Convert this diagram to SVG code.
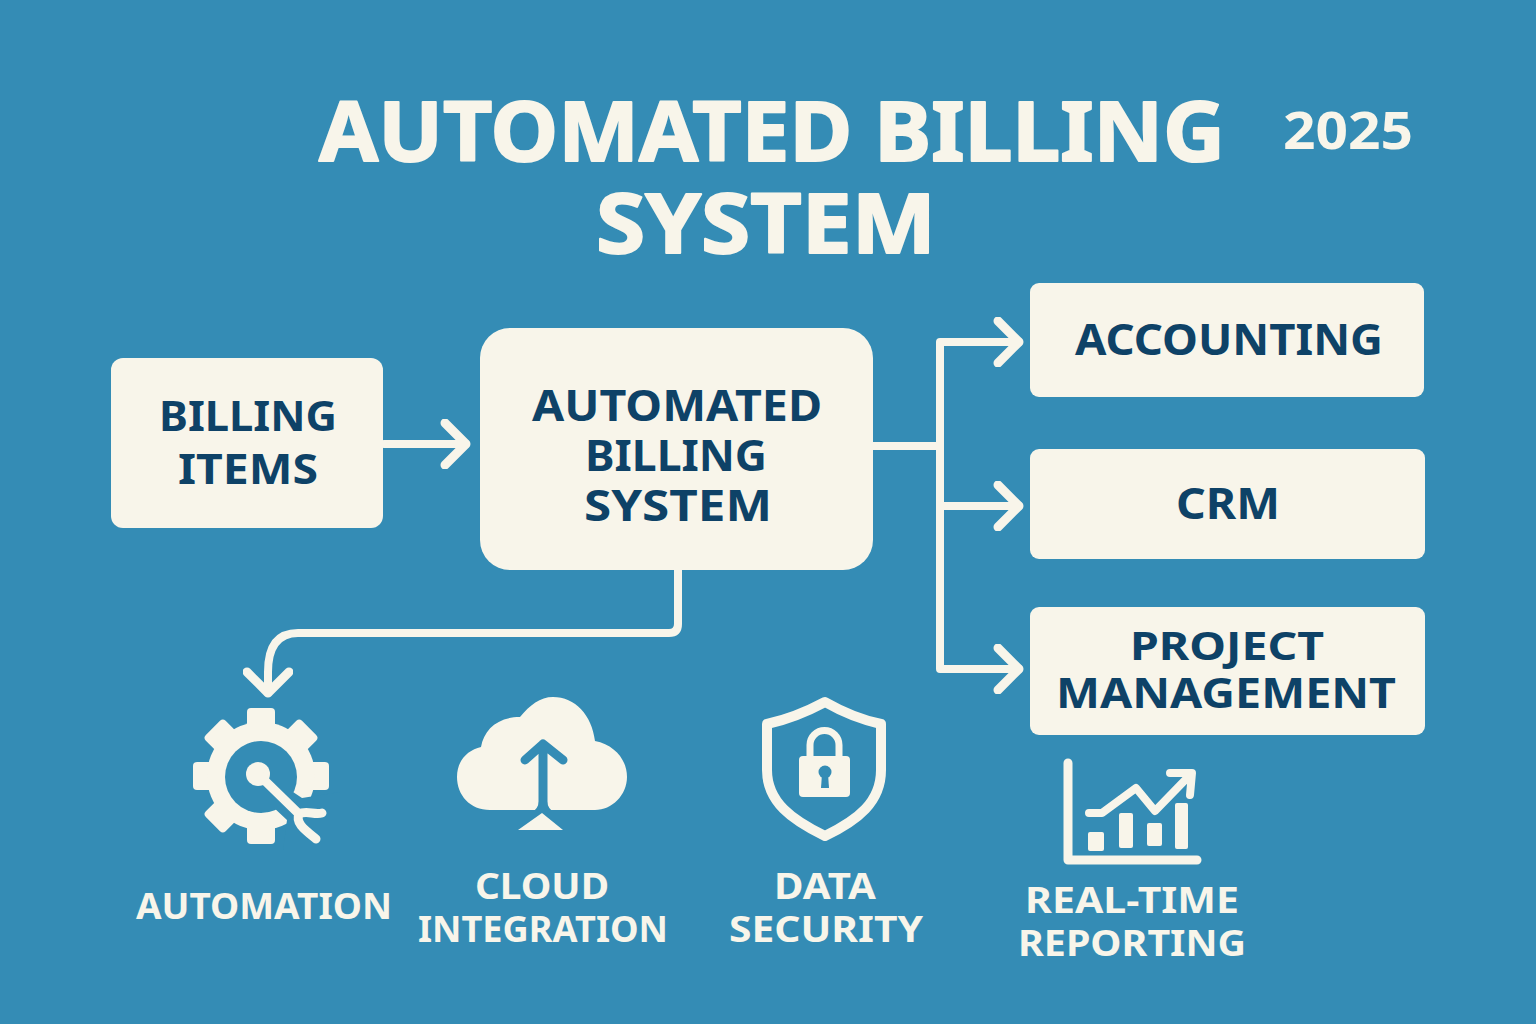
<svg xmlns="http://www.w3.org/2000/svg" width="1536" height="1024" viewBox="0 0 1536 1024">
<defs><style>
.t{font-family:"Noto Sans","Open Sans",sans-serif;font-weight:700;text-anchor:middle}
.w{fill:#f8f5ea}.d{fill:#0e4267}
.h{stroke:#f8f5ea;stroke-width:2;stroke-linejoin:round}
.box{fill:#f8f5ea}
.c{fill:none;stroke:#f8f5ea;stroke-width:8;stroke-linecap:round;stroke-linejoin:round}
.ic{fill:none;stroke:#f8f5ea;stroke-linecap:round;stroke-linejoin:round}
.bg{fill:none;stroke:#348cb5;stroke-linecap:round;stroke-linejoin:round}
</style>
<marker id="a" markerUnits="userSpaceOnUse" markerWidth="40" markerHeight="50" refX="30" refY="25" orient="auto"><path d="M9 4L30 25L9 46" fill="none" stroke="#f8f5ea" stroke-width="9" stroke-linecap="round" stroke-linejoin="round"/></marker>
<rect id="tooth" x="247" y="708" width="28" height="34" rx="4" fill="#f8f5ea"/>
</defs>
<rect width="1536" height="1024" fill="#348cb5"/>
<g id="title">
<text class="t w h" x="772" y="161" font-size="82" textLength="906" lengthAdjust="spacingAndGlyphs">AUTOMATED BILLING</text>
<text class="t w h" x="766" y="253" font-size="82" textLength="340" lengthAdjust="spacingAndGlyphs">SYSTEM</text>
<text class="t w" x="1348" y="149" font-size="52" textLength="130" lengthAdjust="spacingAndGlyphs">2025</text>
</g>
<g id="connectors">
<path class="c" d="M384 444H466" marker-end="url(#a)"/>
<path class="c" d="M873 446H940"/>
<path class="c" d="M940 446V342H1019" marker-end="url(#a)"/>
<path class="c" d="M940 446V669H1019" marker-end="url(#a)"/>
<path class="c" d="M940 506H1019" marker-end="url(#a)"/>
<path class="c" d="M678 570V624Q678 633 669 633H298Q268 633 268 672V693" marker-end="url(#a)"/>
</g>
<g id="billing-items"><rect class="box" x="111" y="358" width="272" height="170" rx="12"/>
<text class="t d" x="248" y="431" font-size="42" textLength="178" lengthAdjust="spacingAndGlyphs">BILLING</text>
<text class="t d" x="248" y="484" font-size="42" textLength="140" lengthAdjust="spacingAndGlyphs">ITEMS</text></g>
<g id="core"><rect class="box" x="480" y="328" width="393" height="242" rx="30"/>
<text class="t d" x="677" y="421" font-size="43" textLength="290" lengthAdjust="spacingAndGlyphs">AUTOMATED</text>
<text class="t d" x="676" y="471" font-size="43" textLength="182" lengthAdjust="spacingAndGlyphs">BILLING</text>
<text class="t d" x="678" y="521" font-size="43" textLength="188" lengthAdjust="spacingAndGlyphs">SYSTEM</text></g>
<g id="accounting"><rect class="box" x="1030" y="283" width="394" height="114" rx="9"/>
<text class="t d" x="1229" y="355" font-size="43" textLength="308" lengthAdjust="spacingAndGlyphs">ACCOUNTING</text></g>
<g id="crm"><rect class="box" x="1030" y="449" width="395" height="110" rx="9"/>
<text class="t d" x="1228" y="519" font-size="43" textLength="104" lengthAdjust="spacingAndGlyphs">CRM</text></g>
<g id="project"><rect class="box" x="1030" y="607" width="395" height="128" rx="9"/>
<text class="t d" x="1227" y="660" font-size="40" textLength="194" lengthAdjust="spacingAndGlyphs">PROJECT</text>
<text class="t d" x="1226" y="708" font-size="42" textLength="340" lengthAdjust="spacingAndGlyphs">MANAGEMENT</text></g>
<g id="automation">
<use href="#tooth"/>
<use href="#tooth" transform="rotate(45 261 776)"/>
<use href="#tooth" transform="rotate(90 261 776)"/>
<use href="#tooth" transform="rotate(135 261 776)"/>
<use href="#tooth" transform="rotate(180 261 776)"/>
<use href="#tooth" transform="rotate(225 261 776)"/>
<use href="#tooth" transform="rotate(270 261 776)"/>
<use href="#tooth" transform="rotate(315 261 776)"/>
<circle class="box" cx="261" cy="776" r="54"/>
<circle cx="261" cy="777" r="36" fill="#348cb5"/>
<path d="M290 790L302 798L340 792V850H283L287 820L272 806Z" fill="#348cb5"/>
<circle class="box" cx="258" cy="774" r="12"/>
<path class="ic" stroke-width="9" d="M258 774L299 814"/>
<path class="ic" stroke-width="9" d="M299 814C306 810 314 815 322 813M299 814C295 823 305 830 316 839"/>
<text class="t w" x="264" y="919" font-size="36" textLength="256" lengthAdjust="spacingAndGlyphs">AUTOMATION</text></g>
<g id="cloud">
<path class="w" d="M490 810C470 810 457 795 457 777C457 760 468 750 481 747C484 730 497 717 520 717C530 705 540 697 553 697C575 697 592 715 595 741C615 745 627 760 627 777C627 795 612 810 595 810Z"/>
<path class="bg" stroke-width="9" d="M543 812V744M525 760L543 744L563 760"/>
<path d="M534 811Q540 806 539 796H547Q546 806 552 811Z" fill="#348cb5"/>
<path class="w" d="M518 830L542 813L563 830Z"/>
<text class="t w" x="542" y="899" font-size="36" textLength="134" lengthAdjust="spacingAndGlyphs">CLOUD</text>
<text class="t w" x="543" y="942" font-size="36" textLength="250" lengthAdjust="spacingAndGlyphs">INTEGRATION</text></g>
<g id="security">
<path d="M825 702Q795 718 767 724V770C767 802 792 820 825 836C858 820 881 802 881 770V724Q853 718 825 702Z" fill="none" stroke="#f8f5ea" stroke-width="10" stroke-linejoin="round"/>
<rect class="box" x="799" y="756" width="51" height="41" rx="4"/>
<path d="M810 760V745A14.500 14.500 0 0 1 839 745V760" fill="none" stroke="#f8f5ea" stroke-width="7"/>
<circle cx="825" cy="772" r="6.500" fill="#348cb5"/><path d="M822 774H828L829 788H821Z" fill="#348cb5"/>
<text class="t w" x="825" y="899" font-size="36" textLength="102" lengthAdjust="spacingAndGlyphs">DATA</text>
<text class="t w" x="826" y="942" font-size="36" textLength="194" lengthAdjust="spacingAndGlyphs">SECURITY</text></g>
<g id="reporting">
<path class="ic" stroke-width="9" d="M1068 763V860H1197"/>
<rect class="box" x="1088" y="832" width="16" height="19" rx="2"/><rect class="box" x="1119" y="813" width="14" height="35" rx="2"/><rect class="box" x="1147" y="823" width="15" height="23" rx="2"/><rect class="box" x="1175" y="803" width="13" height="46" rx="2"/>
<path class="ic" stroke-width="8" d="M1089 813H1102L1136 788L1155 811L1190 775M1170 773H1192L1190 795"/>
<text class="t w" x="1132" y="913" font-size="36" textLength="214" lengthAdjust="spacingAndGlyphs">REAL-TIME</text>
<text class="t w" x="1132" y="956" font-size="36" textLength="228" lengthAdjust="spacingAndGlyphs">REPORTING</text></g>
</svg>
